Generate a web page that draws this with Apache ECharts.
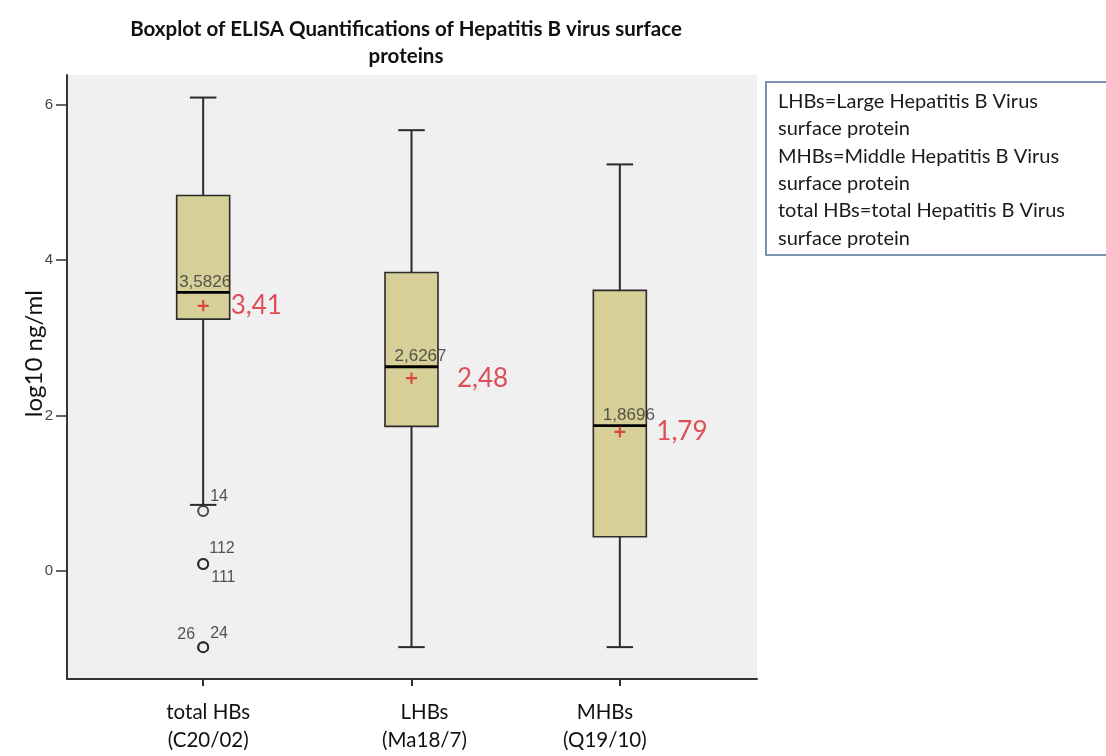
<!DOCTYPE html>
<html>
<head>
<meta charset="utf-8">
<script src="https://cdn.jsdelivr.net/npm/echarts@6/dist/echarts.min.js"></script>
<style>
  html, body { margin: 0; padding: 0; background: #ffffff; }
  #chart { width: 1106px; height: 756px; }
</style>
</head>
<body>
<div id="chart"></div>
<script>
// Groups on the horizontal axis
const groupNames = ['total HBs', 'LHBs', 'MHBs'];
const groupSamples = ['(C20/02)', '(Ma18/7)', '(Q19/10)'];

// Five-number summaries in log10 ng/ml
const lowerWhisker = [0.85, -0.98, -0.98];
const quartile1 = [3.24, 1.86, 0.44];
const medians = [3.5826, 2.6267, 1.8696];
const quartile3 = [4.83, 3.84, 3.61];
const upperWhisker = [6.09, 5.67, 5.23];

// Group means
const means = [3.41, 2.48, 1.79];

// Outlying cases of the total HBs group (case number, value)
const outlierGroup = [0, 0, 0, 0, 0];
const outlierCase = ['14', '112', '111', '26', '24'];
const outlierValue = [0.77, 0.09, 0.09, -0.98, -0.98];

// Y axis tick values
const yTicks = [0, 2, 4, 6];

// Legend notes
const notes = [
  'LHBs=Large Hepatitis B Virus',
  'surface protein',
  'MHBs=Middle Hepatitis B Virus',
  'surface protein',
  'total HBs=total Hepatitis B Virus',
  'surface protein'
];

// ---- label placement (pixels) ----
const caseLabelPlacement = {
  '14':  { position: 'right', offset: [1, -14] },
  '112': { position: 'right', offset: [0, -15] },
  '111': { position: 'right', offset: [2, 14] },
  '26':  { position: 'left',  offset: [-2, -13] },
  '24':  { position: 'right', offset: [1, -14] }
};
const meanLabelOffset = [[22, 0], [40, 0], [31, 0]];
const medianLabelOffset = [2, 9, 9];
const xLabelStyles = ['s0', 's1', 's2'];

const comma = v => String(v).replace('.', ',');

const Y_MIN = -1.39, Y_MAX = 6.38;
const BOX_W = 53;
const BOX_FILL = '#d6cf98';
const INK = '#2b2b2b';

const boxData = groupNames.map((_, i) =>
  [i, lowerWhisker[i], quartile1[i], medians[i], quartile3[i], upperWhisker[i]]);

// Box, whiskers with short caps, and a heavier median bar
function renderBox(params, api) {
  const i = api.value(0);
  const pLow = api.coord([i, api.value(1)]);
  const pQ1 = api.coord([i, api.value(2)]);
  const pMed = api.coord([i, api.value(3)]);
  const pQ3 = api.coord([i, api.value(4)]);
  const pHigh = api.coord([i, api.value(5)]);
  const cx = pMed[0];
  const half = BOX_W / 2;
  const cap = BOX_W / 4;
  const line = (x1, y1, x2, y2, w, c) => ({
    type: 'line', shape: { x1, y1, x2, y2 }, style: { stroke: c || INK, lineWidth: w }
  });
  return {
    type: 'group',
    children: [
      line(cx, pQ3[1], cx, pHigh[1], 2),
      line(cx, pLow[1], cx, pQ1[1], 2),
      line(cx - cap, pHigh[1], cx + cap, pHigh[1], 2),
      line(cx - cap, pLow[1], cx + cap, pLow[1], 2),
      {
        type: 'rect',
        shape: { x: cx - half, y: pQ3[1], width: BOX_W, height: pQ1[1] - pQ3[1] },
        style: { fill: BOX_FILL, stroke: INK, lineWidth: 1.6 }
      },
      line(cx - half, pMed[1], cx + half, pMed[1], 2.8, '#000000')
    ]
  };
}

const chart = echarts.init(document.getElementById('chart'), null, { renderer: 'canvas' });

const option = {
  backgroundColor: '#ffffff',
  animation: false,
  title: {
    text: 'Boxplot of ELISA Quantifications of Hepatitis B virus surface\nproteins',
    left: 401,
    top: 11,
    textAlign: 'center',
    textStyle: {
      fontFamily: 'Lato',
      fontWeight: 'bold',
      fontSize: 20.5,
      lineHeight: 27,
      color: '#111111'
    }
  },
  grid: [
    // frame: background and left/bottom axis lines
    { left: 67, right: 349, top: 75, bottom: 77, show: true, backgroundColor: '#f0f0f0', borderWidth: 0 },
    // data area holding the three boxes
    { left: 99, right: 382, top: 75, bottom: 77 }
  ],
  xAxis: [
    {
      gridIndex: 0, type: 'value', min: 0, max: 1,
      axisLine: { show: true, onZero: false, lineStyle: { color: '#333333', width: 2 } },
      axisTick: { show: false }, axisLabel: { show: false }, splitLine: { show: false }
    },
    {
      gridIndex: 1, type: 'category', data: groupNames,
      axisLine: { show: false, onZero: false },
      axisTick: { show: true, alignWithLabel: true, length: 7, lineStyle: { color: '#333333', width: 2 } },
      axisLabel: {
        margin: 19,
        formatter: (v, i) => '{' + xLabelStyles[i] + '|' + v + '}\n{' + xLabelStyles[i] + '|' + groupSamples[i] + '}',
        rich: {
          s0: { fontFamily: 'Lato', fontSize: 20.5, lineHeight: 28, color: '#111', padding: [0, 0, 0, 10] },
          s1: { fontFamily: 'Lato', fontSize: 20.5, lineHeight: 28, color: '#111', padding: [0, 0, 0, 26] },
          s2: { fontFamily: 'Lato', fontSize: 20.5, lineHeight: 28, color: '#111', padding: [0, 30, 0, 0] }
        }
      }
    }
  ],
  yAxis: [
    {
      gridIndex: 0, type: 'value', min: Y_MIN, max: Y_MAX,
      axisLine: { show: true, lineStyle: { color: '#333333', width: 2 } },
      axisTick: { show: true, length: 11, customValues: yTicks, lineStyle: { color: '#333333', width: 1.5 } },
      axisLabel: { show: true, margin: 14, customValues: yTicks, fontFamily: 'Liberation Sans', fontSize: 15, color: '#444444' },
      splitLine: { show: false }
    },
    {
      gridIndex: 1, type: 'value', min: Y_MIN, max: Y_MAX, show: false,
      splitLine: { show: false }
    }
  ],
  graphic: [
    {
      type: 'text', left: 22, top: 290, rotation: Math.PI / 2,
      style: { text: 'log10 ng/ml', fontFamily: 'Lato', fontSize: 24, fill: '#111' }
    },
    {
      type: 'rect', shape: { x: 766, y: 82, width: 360, height: 173 },
      style: { fill: '#ffffff', stroke: '#4f6e99', lineWidth: 1.5 }
    },
    {
      type: 'text', x: 778, y: 88,
      style: { text: notes.join('\n'), fontFamily: 'Lato', fontSize: 20, lineHeight: 27.3, fill: '#1a1a1a' }
    }
  ],
  series: [
    {
      type: 'custom', xAxisIndex: 1, yAxisIndex: 1,
      data: boxData,
      encode: { x: 0, y: [1, 2, 3, 4, 5] },
      renderItem: renderBox,
      z: 2
    },
    {
      // median value labels
      type: 'scatter', xAxisIndex: 1, yAxisIndex: 1,
      symbolSize: 0,
      data: medians.map((m, i) => ({
        value: [i, m],
        label: {
          show: true, position: 'top', distance: 2, offset: [medianLabelOffset[i], 0],
          formatter: comma(m), fontFamily: 'Liberation Sans', fontSize: 17, color: '#333333'
        }
      })),
      z: 4
    },
    {
      // group means
      type: 'scatter', xAxisIndex: 1, yAxisIndex: 1,
      symbol: 'path://M4,0h2v4h4v2h-4v4h-2v-4h-4v-2h4z',
      symbolSize: 11,
      itemStyle: { color: '#d8262e' },
      data: means.map((m, i) => ({
        value: [i, m],
        label: {
          show: true, position: 'right', distance: 0, offset: meanLabelOffset[i],
          formatter: comma(m), fontFamily: 'Lato', fontSize: 26, color: '#d8262e'
        }
      })),
      z: 5
    },
    {
      // outlying cases
      type: 'scatter', xAxisIndex: 1, yAxisIndex: 1,
      symbol: 'circle', symbolSize: 10,
      itemStyle: { color: 'rgba(0,0,0,0)', borderColor: '#222222', borderWidth: 2 },
      data: outlierValue.map((v, i) => ({
        value: [outlierGroup[i], v],
        label: Object.assign({
          show: true, distance: 0, formatter: outlierCase[i],
          fontFamily: 'Liberation Sans', fontSize: 16, color: '#2a2a2a'
        }, caseLabelPlacement[outlierCase[i]])
      })),
      z: 5
    }
  ]
};

chart.setOption(option);
</script>
</body>
</html>
